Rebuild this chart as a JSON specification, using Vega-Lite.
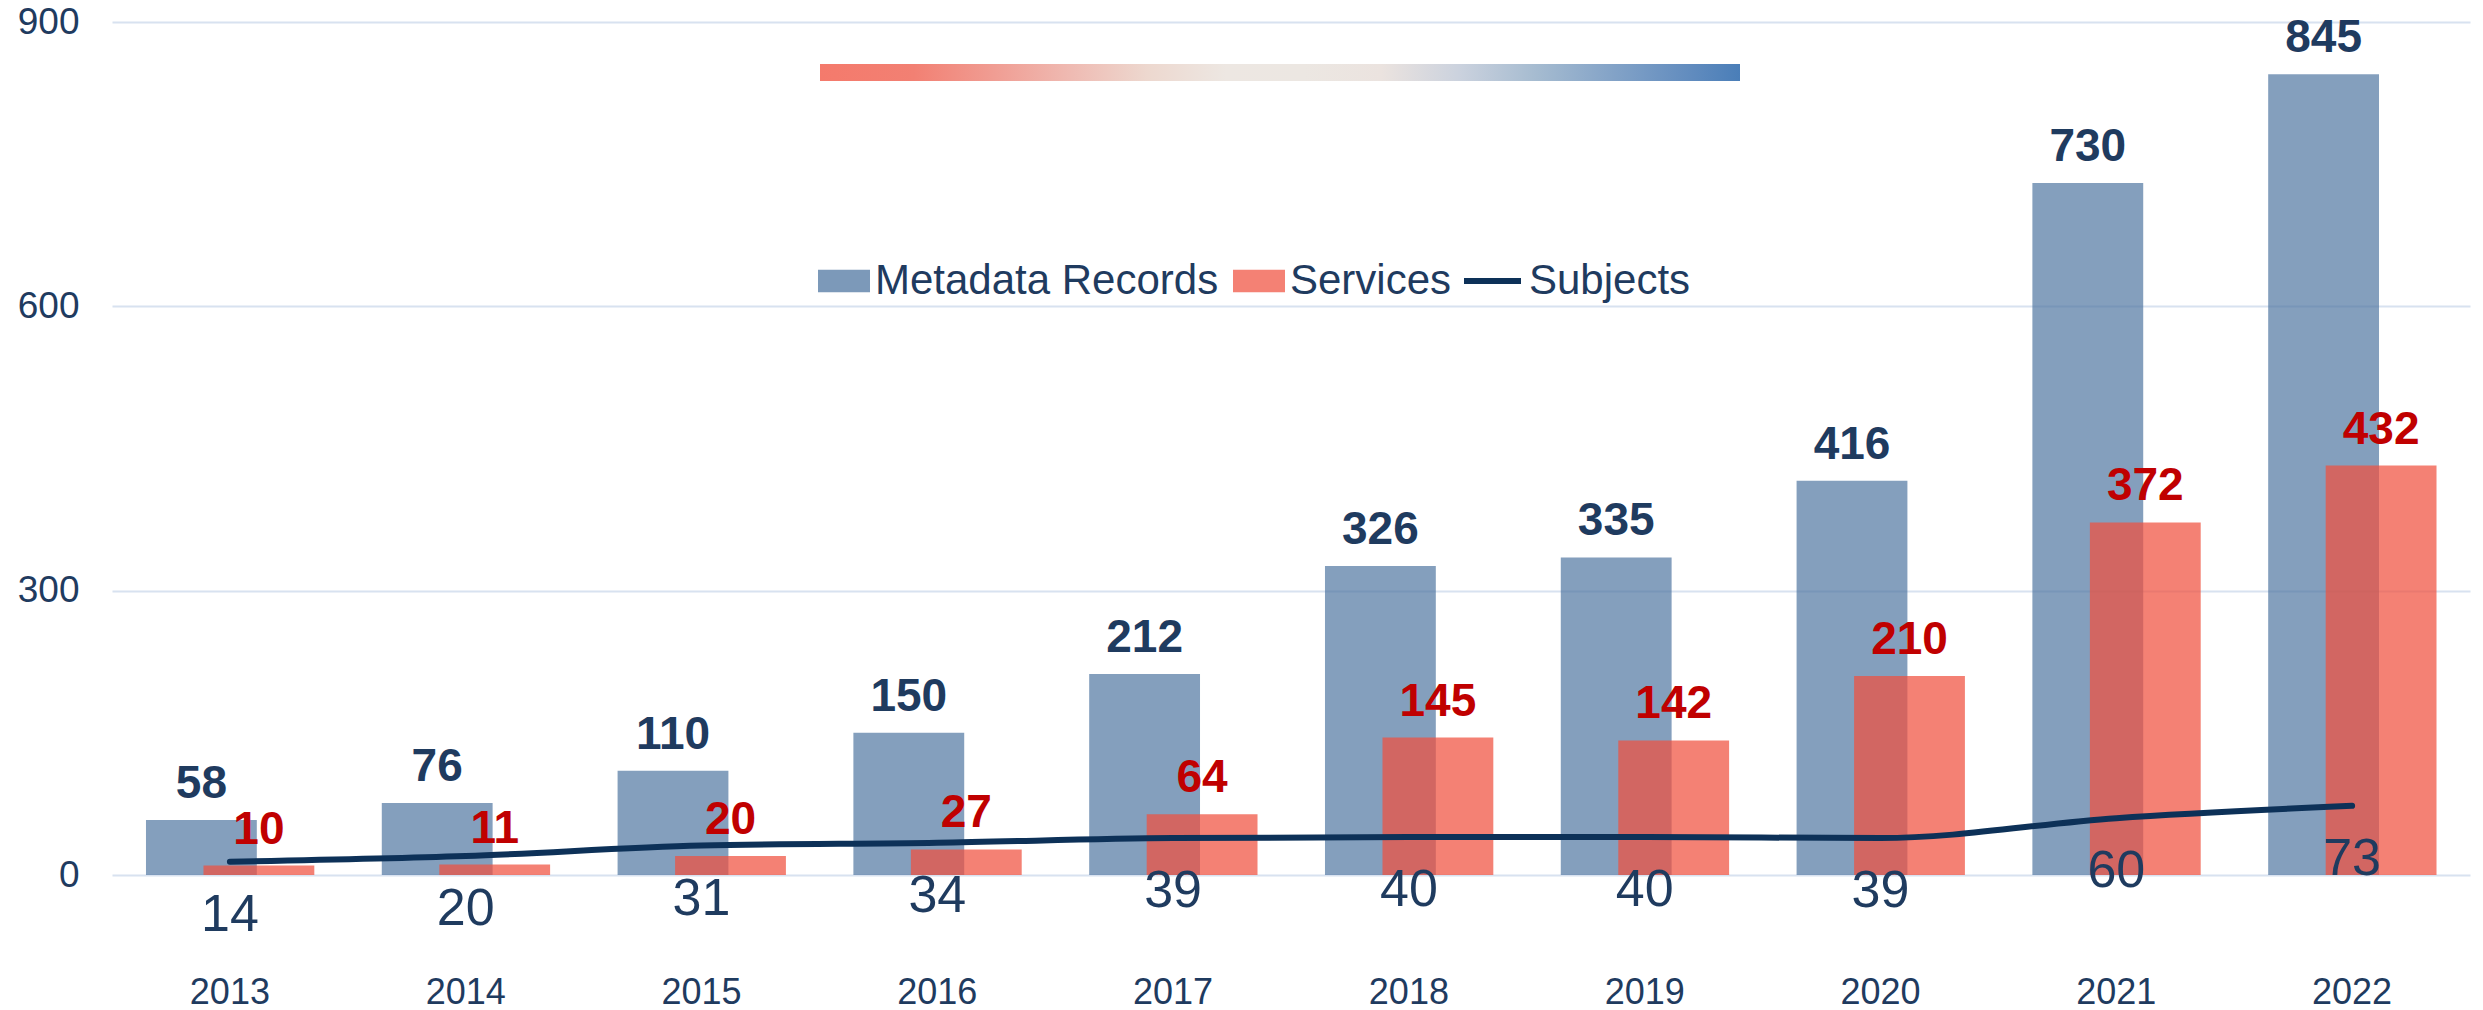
{
  "$schema": "https://vega.github.io/schema/vega-lite/v6.json",
  "width": 2358,
  "height": 853,
  "autosize": {"type": "none"},
  "padding": {"left": 112, "top": 22, "right": 13, "bottom": 135},
  "background": "white",
  "config": {
    "font": "Liberation Sans",
    "view": {"stroke": null},
    "axis": {"labelFont": "Liberation Sans", "labelColor": "#1f3b5f"},
    "legend": {"labelFont": "Liberation Sans", "labelColor": "#1f3b5f", "labelFontSize": 42, "labelLimit": 900, "padding": 0, "title": null}
  },
  "data": {
    "values": [
      {"Year": "2013", "Metadata Records": 58, "Services": 10, "Subjects": 14},
      {"Year": "2014", "Metadata Records": 76, "Services": 11, "Subjects": 20},
      {"Year": "2015", "Metadata Records": 110, "Services": 20, "Subjects": 31},
      {"Year": "2016", "Metadata Records": 150, "Services": 27, "Subjects": 34},
      {"Year": "2017", "Metadata Records": 212, "Services": 64, "Subjects": 39},
      {"Year": "2018", "Metadata Records": 326, "Services": 145, "Subjects": 40},
      {"Year": "2019", "Metadata Records": 335, "Services": 142, "Subjects": 40},
      {"Year": "2020", "Metadata Records": 416, "Services": 210, "Subjects": 39},
      {"Year": "2021", "Metadata Records": 730, "Services": 372, "Subjects": 60},
      {"Year": "2022", "Metadata Records": 845, "Services": 432, "Subjects": 73}
    ]
  },
  "encoding": {
    "x": {
      "field": "Year",
      "type": "ordinal",
      "scale": {"paddingInner": 0, "paddingOuter": 0},
      "axis": {
        "title": null,
        "domain": false,
        "ticks": false,
        "grid": false,
        "labelAngle": 0,
        "labelFontSize": 36,
        "labelPadding": 100
      }
    }
  },
  "layer": [
    {
      "mark": {"type": "bar", "width": {"band": 0.47}, "xOffset": -28.5, "opacity": 0.68},
      "encoding": {
        "y": {
          "field": "Metadata Records",
          "type": "quantitative",
          "title": null,
          "scale": {"domain": [0, 900], "nice": false},
          "axis": {
            "values": [0, 300, 600, 900],
            "domain": false,
            "ticks": false,
            "labelFontSize": 37,
            "labelPadding": 33,
            "gridColor": "#d8e2f0",
            "gridWidth": 2,
            "gridOpacity": 1
          }
        },
        "color": {
          "datum": "Metadata Records",
          "type": "nominal",
          "scale": {
            "domain": ["Metadata Records", "Services"],
            "range": ["#4a729e", "#f0513e"]
          },
          "legend": {
            "orient": "none",
            "legendX": 706,
            "legendY": 233,
            "direction": "horizontal",
            "title": null,
            "labelOffset": 5,
            "columnPadding": 14,
            "symbolSize": 2704,
            "symbolType": "M-1,-0.43L1,-0.43L1,0.43L-1,0.43Z",
            "symbolOpacity": 0.7,
            "symbolStrokeWidth": 0
          }
        }
      }
    },
    {
      "mark": {"type": "bar", "width": {"band": 0.47}, "xOffset": 29, "opacity": 0.72},
      "encoding": {
        "y": {"field": "Services", "type": "quantitative", "title": null},
        "color": {"datum": "Services", "type": "nominal"}
      }
    },
    {
      "mark": {"type": "line", "strokeWidth": 6, "strokeCap": "round", "interpolate": "monotone"},
      "encoding": {
        "y": {"field": "Subjects", "type": "quantitative", "title": null},
        "stroke": {
          "datum": "Subjects",
          "type": "nominal",
          "scale": {"domain": ["Subjects"], "range": ["#0d3158"]},
          "legend": {
            "orient": "none",
            "legendX": 1349,
            "legendY": 227.5,
            "direction": "horizontal",
            "title": null,
            "labelOffset": 5,
            "symbolSize": 3249,
            "symbolType": "stroke",
            "symbolStrokeWidth": 6,
            "symbolOpacity": 1
          }
        }
      }
    },
    {
      "mark": {"type": "text", "fontSize": 46, "fontWeight": "bold", "color": "#1f3b5f", "baseline": "alphabetic", "dy": -22, "xOffset": -28.5},
      "encoding": {
        "y": {"field": "Metadata Records", "type": "quantitative", "title": null},
        "text": {"field": "Metadata Records", "type": "quantitative"}
      }
    },
    {
      "mark": {"type": "text", "fontSize": 46, "fontWeight": "bold", "color": "#c00000", "baseline": "alphabetic", "dy": -22, "xOffset": 29},
      "encoding": {
        "y": {"field": "Services", "type": "quantitative", "title": null},
        "text": {"field": "Services", "type": "quantitative"}
      }
    },
    {
      "mark": {"type": "text", "fontSize": 52, "color": "#1f3b5f", "baseline": "alphabetic", "dy": 69},
      "encoding": {
        "y": {"field": "Subjects", "type": "quantitative", "title": null},
        "text": {"field": "Subjects", "type": "quantitative"}
      }
    },
    {
      "mark": {"type": "circle", "opacity": 0},
      "encoding": {
        "y": {"field": "Subjects", "type": "quantitative", "title": null},
        "fill": {
          "field": "Subjects",
          "type": "quantitative",
          "scale": {
            "range": ["#f47a6c", "#f27f72", "#efa097", "#efc4bd", "#ede6e2", "#ece8e3", "#ebe6e1", "#c8d2dd", "#9cb5cd", "#7498c4", "#4a7eb8"]
          },
          "legend": {
            "type": "gradient",
            "orient": "none",
            "legendX": 708,
            "legendY": 42,
            "direction": "horizontal",
            "title": null,
            "gradientLength": 920,
            "gradientThickness": 17,
            "gradientStrokeWidth": 0,
            "labelOpacity": 0,
            "labelExpr": "''"
          }
        }
      }
    }
  ]
}
